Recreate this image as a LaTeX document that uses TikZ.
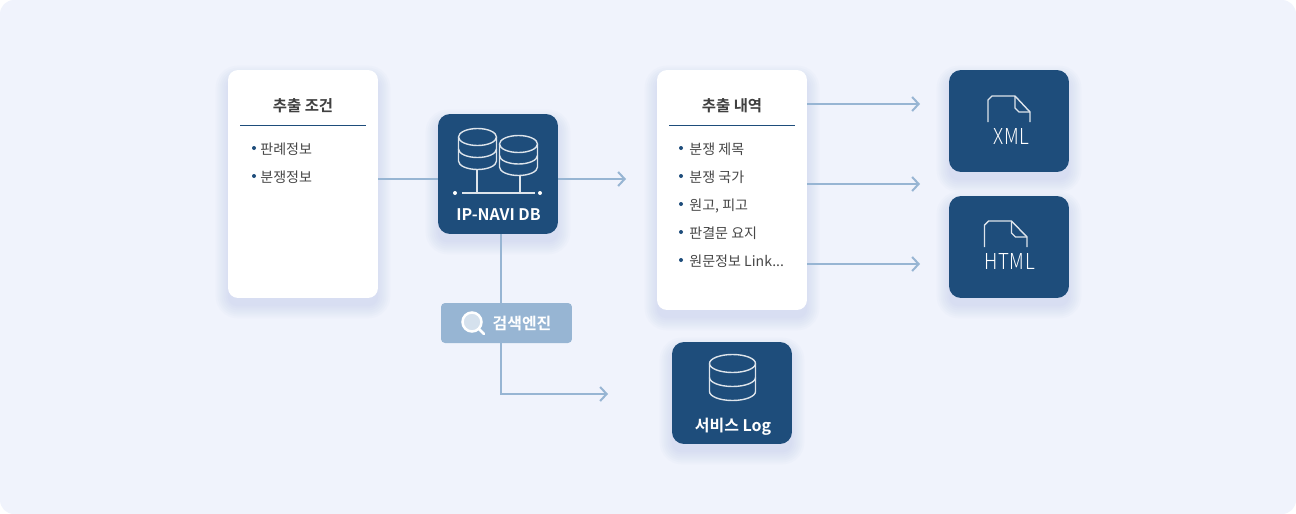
\documentclass[tikz,border=0pt]{standalone}
\usepackage{fontspec}
\setmainfont{Noto Sans CJK KR}
\newfontfamily\medfont{Noto Sans CJK KR Bold}
\newfontfamily\thinfont[LetterSpace=4]{Noto Sans CJK KR Light}
\usetikzlibrary{arrows, arrows.meta}
\usetikzlibrary{backgrounds}
\usetikzlibrary{calc}
\definecolor{pagebg}{HTML}{F0F3FC}
\definecolor{navy}{HTML}{1E4D7B}
\definecolor{wire}{HTML}{97B5D3}
\definecolor{haze}{HTML}{9FB0E0}
\tikzset{
  card/.style={fill=white, rounded corners=0.2cm, inner sep=0, minimum width=3cm},
  tile/.style={fill=navy, rounded corners=0.24cm, inner sep=0, minimum width=2.4cm},
  heading/.style={anchor=base, inner sep=0, text=black!75, font=\medfont\fontsize{8.8}{10}\selectfont},
  item/.style={anchor=base west, inner sep=0, text=black!72, font=\fontsize{8}{9}\selectfont},
  caption/.style={anchor=base, inner sep=0, text=white, font=\medfont\fontsize{9.1}{10}\selectfont},
  filetype/.style={inner sep=0, text=white, font=\thinfont\fontsize{12.5}{13}\selectfont},
  link/.style={draw=wire, line width=0.04cm},
  arrow/.style={link, -{Straight Barb[length=0.13cm, width=0.28cm]}},
  icon/.style={draw=white!85!navy, line width=0.028cm, line join=round},
}
% blurred shadow behind a named box
\newcommand{\softshadow}[1]{
  \foreach \g in {12,10,...,0}
    \fill [haze, opacity=0.045, rounded corners=0.2cm+\g*0.02cm]
      ($(#1.south west)+(-\g,\g+8)$) rectangle ($(#1.north east)+(\g,-\g+8)$);
}
\newcommand{\stack}[5]{
  \draw [icon] (#1,#2) ellipse [x radius=#3, y radius=#4];
  \draw [icon] (#1-#3,#2) -- (#1-#3,#2+2*#5)
    arc [start angle=180, end angle=0, x radius=#3, y radius=#4] -- (#1+#3,#2);
  \draw [icon] (#1-#3,#2+#5) arc [start angle=180, end angle=0, x radius=#3, y radius=#4];
}
\newcommand{\sheet}[4]{
  \draw [icon] (#1,#4) -- (#1,#2+4) -- ++(4,-4) -- (#1+27,#2) -- (#3,#2+16) -- (#3,#4);
  \draw [icon] (#1+27,#2) -- (#1+27,#2+12) -- ++(4,4) -- (#3,#2+16);
}
\begin{document}
\begin{tikzpicture}[x=0.02cm, y=-0.02cm]
  \useasboundingbox (0,0) rectangle (1296,514);
  \begin{pgfonlayer}{background}
    \fill [pagebg, rounded corners=0.28cm] (0,0) rectangle (1296,514);
  \end{pgfonlayer}

  \node [card, minimum height=4.56cm] (cond) at (303,184) {};
  \node [card, minimum height=4.8cm] (result) at (732,190) {};
  \node [tile, minimum height=2.4cm] (db) at (498,174) {};
  \node [tile, minimum height=2.04cm] (xml) at (1009,121) {};
  \node [tile, minimum height=2.04cm] (html) at (1009,247) {};
  \node [tile, minimum height=2.04cm] (log) at (732,393) {};
  \begin{pgfonlayer}{background}
    \softshadow{cond}
    \softshadow{result}
    \softshadow{db}
    \softshadow{xml}
    \softshadow{html}
    \softshadow{log}
  \end{pgfonlayer}

  % left card
  \node [heading] (condtitle) at (303,111) {추출 조건};
  \coordinate (condrulea) at (240,125.5);
  \coordinate (condruleb) at (366,125.5);
  \draw [navy, line width=0.02cm] (condrulea) -- (condruleb);
  \foreach \txt [count=\i] in {판례정보, 분쟁정보} {
    \fill [navy] (254,120+28*\i) circle (2);
    \node [item] (conditem\i) at (260,126+28*\i) {\txt};
  }

  % right card
  \node [heading] (resulttitle) at (732,111) {추출 내역};
  \coordinate (resultrulea) at (669,125.5);
  \coordinate (resultruleb) at (795,125.5);
  \draw [navy, line width=0.02cm] (resultrulea) -- (resultruleb);
  \foreach \txt [count=\i] in {분쟁 제목, 분쟁 국가, {원고, 피고}, 판결문 요지} {
    \fill [navy] (681,120+28*\i) circle (2);
    \node [item] (resultitem\i) at (689,126+28*\i) {\txt};
  }
  \fill [navy] (681,260) circle (2);
  \node [item] (resultitem5) at (689,266) {원문정보 Link...};

  % connectors
  \coordinate (dbin) at (438,179);
  \coordinate (dbout) at (626,179);
  \coordinate (xmlend) at (920,104);
  \coordinate (midend) at (920,184);
  \coordinate (htmlend) at (920,264);
  \coordinate (bend) at (501,394);
  \coordinate (logend) at (608,394);
  \draw [link] (cond.east |- dbin) -- (dbin);
  \draw [arrow] (db.east |- dbout) -- (dbout);
  \draw [arrow] (result.east |- xmlend) -- (xmlend);
  \draw [arrow] (result.east |- midend) -- (midend);
  \draw [arrow] (result.east |- htmlend) -- (htmlend);
  \draw [arrow] (db.south -| bend) -- (bend) -- (logend);

  % search engine tag
  \node [fill=wire, rounded corners=0.08cm, inner sep=0, minimum width=2.62cm, minimum height=0.8cm] (engine) at (506.5,323) {};
  \node [caption] (enginetext) at (522,329) {검색엔진};
  \fill [white, opacity=0.6] (472,322) circle (9);
  \draw [white, line width=0.05cm] (472,322) circle (9.5);
  \draw [white, line width=0.05cm, line cap=round] (479,329) -- (484,334);

  % db tile
  \stack{477.5}{137}{19}{8.5}{12}
  \stack{518.5}{144}{19}{8.5}{11.5}
  \draw [icon] (477,170) -- (477,193);
  \draw [icon] (520,176) -- (520,193);
  \draw [icon] (462,193) -- (535,193);
  \fill [white] (455,193) circle (2);
  \fill [white] (540,193) circle (2);
  \node [caption] (dbname) at (498.5,220.5) {IP-NAVI DB};

  % file tiles
  \sheet{988}{96}{1030}{122}
  \node [filetype, xscale=0.85, transform shape] (xmlname) at (1011.5,136) {XML};
  \sheet{984.5}{221}{1027}{247}
  \node [filetype, xscale=0.85, transform shape] (htmlname) at (1009.5,261) {HTML};

  % log tile
  \stack{732.5}{363.5}{23}{9}{14}
  \node [caption] (logname) at (733,431) {서비스 Log};
\end{tikzpicture}
\end{document}
